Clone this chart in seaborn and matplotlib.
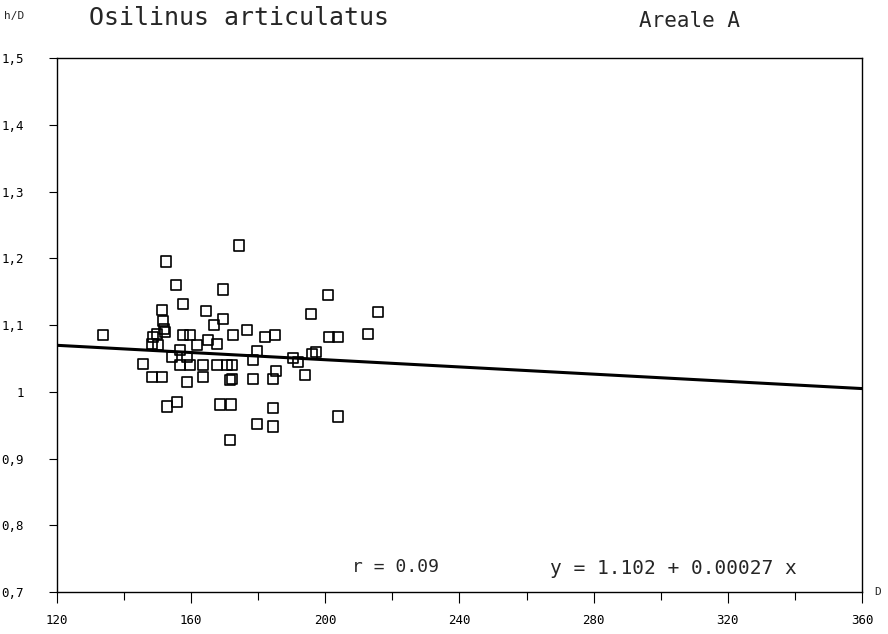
import numpy as np
import pandas as pd
import matplotlib
matplotlib.use("Agg")
import matplotlib.pyplot as plt
import seaborn as sns

# diameter D and ratio h/D
diam = [133.7, 145.6, 148.3, 151.3, 148.3, 150.1, 148.6, 149.8, 152.2, 151.6,
        151.9, 151.3, 152.5, 155.5, 157.6, 157.6, 159.7, 152.8, 155.8, 154.3,
        158.8, 156.7, 156.7, 159.7, 158.8, 161.7, 163.5, 163.5, 164.4, 165.0,
        167.7, 166.8, 169.5, 169.5, 167.7, 170.7, 171.6, 168.6, 171.9, 171.6,
        172.5, 176.6, 174.3, 172.2, 172.2, 179.6, 178.4, 178.4, 184.4, 185.3,
        179.6, 184.4, 182.0, 185.0, 184.4, 190.4, 191.9, 193.9, 196.0, 197.2,
        195.7, 200.8, 201.1, 203.8, 203.8, 212.7, 215.7]
ratio = [1.085, 1.042, 1.022, 1.022, 1.072, 1.070, 1.082, 1.087, 1.090, 1.106,
         1.094, 1.123, 1.195, 1.160, 1.132, 1.085, 1.085, 0.978, 0.985, 1.052,
         1.052, 1.063, 1.040, 1.040, 1.015, 1.070, 1.040, 1.022, 1.121, 1.078,
         1.072, 1.100, 1.109, 1.153, 1.040, 1.040, 1.018, 0.981, 0.981, 0.928,
         1.085, 1.093, 1.219, 1.040, 1.019, 1.061, 1.048, 1.019, 1.019, 1.031,
         0.952, 0.948, 1.082, 1.085, 0.976, 1.051, 1.045, 1.025, 1.057, 1.060,
         1.117, 1.145, 1.082, 1.082, 0.963, 1.087, 1.120]

# regression line
intercept = 1.102
slope = -0.00027
line_x = [120, 360]

x_ticks = [120, 160, 200, 240, 280, 320, 360]
y_ticks = [0.7, 0.8, 0.9, 1.0, 1.1, 1.2, 1.3, 1.4, 1.5]
y_labels = ["0,7", "0,8", "0,9", "1", "1,1", "1,2", "1,3", "1,4", "1,5"]

sns.set_style("ticks")
plt.rcParams['font.family'] = ['DejaVu Sans Mono', 'DejaVu Sans']

df = pd.DataFrame({"D": diam, "hD": ratio})
fit = pd.DataFrame({"D": line_x, "hD": [intercept + slope * v for v in line_x]})

fig = plt.figure(figsize=(8.88, 6.34), dpi=100)
ax = fig.add_axes([0.0642, 0.0662, 0.9065, 0.8423])

sns.lineplot(data=fit, x="D", y="hD", ax=ax, color="black", linewidth=2.2)
sns.scatterplot(data=df, x="D", y="hD", ax=ax, marker="s", s=55,
                facecolor="none", edgecolor="black", linewidth=1.2)

ax.set_xlim(120, 360)
ax.set_ylim(0.7, 1.5)
ax.set_xticks(x_ticks)
ax.set_xticks([140, 180, 220, 260, 300, 340], minor=True)
ax.set_yticks(y_ticks)
ax.set_yticklabels(y_labels)
ax.set_xlabel("")
ax.set_ylabel("")
ax.tick_params(axis="both", which="both", direction="out", colors="black",
               labelsize=9, width=0.8)
ax.tick_params(axis="x", which="major", length=8, pad=8)
ax.tick_params(axis="x", which="minor", length=6)
ax.tick_params(axis="y", length=6, pad=18)
for s in ax.spines.values():
    s.set_visible(True)
    s.set_color("black")
    s.set_linewidth(1.0)

ax.text(208, 0.738, "r = 0.09", fontsize=13, va="center")
ax.text(267, 0.735, "y = 1.102 + 0.00027 x", fontsize=14, va="center")

fig.text(0.005, 0.975, "h/D", fontsize=8, va="center")
fig.text(0.10, 0.972, "Osilinus articulatus", fontsize=18, va="center")
fig.text(0.72, 0.967, "Areale A", fontsize=15, va="center")
fig.text(0.985, 0.066, "D", fontsize=8, va="center")

fig.savefig("out.png", dpi=100)
